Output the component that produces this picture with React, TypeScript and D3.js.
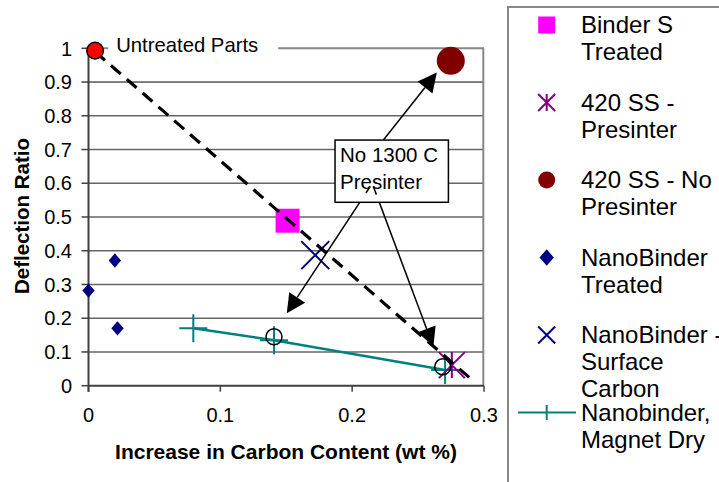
import React from "react";
import * as d3 from "d3";

// ---- data ----
const untreatedX = [0.005];
const untreatedY = [0.993];
const binderSX = [0.151];
const binderSY = [0.489];
const ss420PreX = [0.2756];
const ss420PreY = [0.061];
const ss420NoPreX = [0.2748];
const ss420NoPreY = [0.963];
const nanoTreatedX = [0.0, 0.02, 0.022];
const nanoTreatedY = [0.282, 0.371, 0.17];
const nanoSurfX = [0.172];
const nanoSurfY = [0.387];
const magnetX = [0.0795, 0.1407, 0.2705];
const magnetY = [0.17, 0.135, 0.0465];
const openCircX = [0.1407, 0.2687];
const openCircY = [0.145, 0.056];
const trendX = [0.005, 0.291];
const trendY = [0.99, 0.017];

const xTicks = [0, 0.1, 0.2, 0.3];
const yTicks = [0, 0.1, 0.2, 0.3, 0.4, 0.5, 0.6, 0.7, 0.8, 0.9, 1];

const noteLines = ["No 1300 C", "Presinter"];
// box corners and arrows in data units
const noteBoxX = [0.187, 0.273];
const noteBoxY = [0.728, 0.5436];
const arrowFromX = [0.2237, 0.2136, 0.2161];
const arrowFromY = [0.728, 0.59, 0.59];
const arrowToX = [0.2642, 0.1504, 0.2616];
const arrowToY = [0.928, 0.2146, 0.1156];
const untreatedLabel = "Untreated Parts";
const untreatedLabelX = 0.021;
const untreatedLabelY = 0.989;

const legendLabels = [
  ["Binder S", "Treated"],
  ["420 SS -", "Presinter"],
  ["420 SS - No", "Presinter"],
  ["NanoBinder", "Treated"],
  ["NanoBinder -", "Surface", "Carbon"],
  ["Nanobinder,", "Magnet Dry"],
];
const legendKinds = ["square", "asterisk", "circle", "diamond", "x", "plusline"];

const FONT = "Arial, 'Liberation Sans', sans-serif";

const x = d3.scaleLinear().domain([0, 0.3]).range([88.5, 484]);
const y = d3.scaleLinear().domain([0, 1]).range([385.7, 48.3]);

function Marker({ kind, cx, cy, s }: { kind: string; cx: number; cy: number; s: number }) {
  const h = s / 2;
  if (kind === "square")
    return <rect x={cx - h} y={cy - h} width={s} height={s} fill="#FF00FF" />;
  if (kind === "circle") return <circle cx={cx} cy={cy} r={h} fill="#800000" />;
  if (kind === "diamond")
    return (
      <path
        d={`M${cx},${cy - h * 1.1}L${cx + h * 0.95},${cy}L${cx},${cy + h * 1.1}L${cx - h * 0.95},${cy}Z`}
        fill="#000080"
      />
    );
  if (kind === "x")
    return (
      <path
        d={`M${cx - h},${cy - h}L${cx + h},${cy + h}M${cx - h},${cy + h}L${cx + h},${cy - h}`}
        stroke="#000080"
        strokeWidth={2}
      />
    );
  if (kind === "asterisk")
    return (
      <path
        d={`M${cx - h},${cy - h}L${cx + h},${cy + h}M${cx - h},${cy + h}L${cx + h},${cy - h}M${cx},${cy - h}L${cx},${cy + h}`}
        stroke="#800080"
        strokeWidth={2}
      />
    );
  if (kind === "plus")
    return (
      <path
        d={`M${cx - h},${cy}L${cx + h},${cy}M${cx},${cy - h}L${cx},${cy + h}`}
        stroke="#008080"
        strokeWidth={2}
      />
    );
  return null;
}

function Arrow({ x1, y1, x2, y2 }: { x1: number; y1: number; x2: number; y2: number }) {
  const dx = x2 - x1;
  const dy = y2 - y1;
  const len = Math.hypot(dx, dy);
  const ux = dx / len;
  const uy = dy / len;
  const L = 19;
  const W = 9.5;
  const bx = x2 - ux * L;
  const by = y2 - uy * L;
  const p1 = [bx - uy * W, by + ux * W];
  const p2 = [bx + uy * W, by - ux * W];
  return (
    <g>
      <line x1={x1} y1={y1} x2={bx} y2={by} stroke="#000" strokeWidth={1.5} />
      <path d={`M${x2},${y2}L${p1[0]},${p1[1]}L${p2[0]},${p2[1]}Z`} fill="#000" />
    </g>
  );
}

export default function App() {
  const magnetLine = d3
    .line<number>()
    .x((_, i) => x(magnetX[i]))
    .y((_, i) => y(magnetY[i]))(magnetX);
  const trendLine = d3
    .line<number>()
    .x((_, i) => x(trendX[i]))
    .y((_, i) => y(trendY[i]))(trendX);

  const bx0 = x(noteBoxX[0]);
  const bx1 = x(noteBoxX[1]);
  const by0 = y(noteBoxY[0]);
  const by1 = y(noteBoxY[1]);

  const legendMarkerX = 546.7;
  const legendTextX = 581;

  return (
    <div style={{ position: "absolute", left: 0, top: 0 }}>
      <svg width={719} height={482} style={{ display: "block", background: "#fff" }} fontFamily={FONT}>
        <rect width={719} height={482} fill="#fff" />
        {/* gridlines */}
        {yTicks.slice(1, -1).map((t) => (
          <line key={t} x1={x(0)} x2={x(0.3)} y1={y(t)} y2={y(t)} stroke={t === 0.9 ? "#000" : "#666"} strokeWidth={t === 0.9 ? 1 : 1.4} />
        ))}
        {/* top & right border */}
        <line x1={x(0)} x2={x(0.3)} y1={y(1)} y2={y(1)} stroke="#888" strokeWidth={2} />
        <line x1={x(0.3) - 0.7} x2={x(0.3) - 0.7} y1={y(1)} y2={y(0)} stroke="#888" strokeWidth={2} />
        {/* axes */}
        <line x1={x(0)} x2={x(0)} y1={y(1)} y2={y(0) + 6} stroke="#404040" strokeWidth={2} />
        <line x1={x(0)} x2={x(0.3)} y1={y(0)} y2={y(0)} stroke="#404040" strokeWidth={2} />
        {yTicks.map((t) => (
          <line key={"yt" + t} x1={x(0) - 7} x2={x(0)} y1={y(t)} y2={y(t)} stroke="#404040" strokeWidth={1.5} />
        ))}
        {xTicks.map((t) => (
          <line key={"xt" + t} x1={x(t)} x2={x(t)} y1={y(0)} y2={y(0) + 6} stroke="#404040" strokeWidth={1.5} />
        ))}
        {yTicks.map((t) => (
          <text key={"yl" + t} x={72} y={y(t)} dy="0.36em" textAnchor="end" fontSize={20} fill="#000">
            {String(t)}
          </text>
        ))}
        {xTicks.map((t) => (
          <text key={"xl" + t} x={x(t)} y={422} textAnchor="middle" fontSize={20} fill="#000">
            {String(t)}
          </text>
        ))}
        <text transform="translate(29,216) rotate(-90)" textAnchor="middle" fontSize={20.5} fontWeight="bold">
          Deflection Ratio
        </text>
        <text x={286} y={459} textAnchor="middle" fontSize={21} fontWeight="bold">
          Increase in Carbon Content (wt %)
        </text>

        {/* Magnet dry series */}
        <path d={magnetLine || ""} fill="none" stroke="#008080" strokeWidth={2.5} />
        {magnetX.map((v, i) => (
          <Marker key={"m" + i} kind="plus" cx={x(v)} cy={y(magnetY[i])} s={28} />
        ))}
        {nanoTreatedX.map((v, i) => (
          <Marker key={"d" + i} kind="diamond" cx={x(v)} cy={y(nanoTreatedY[i])} s={13} />
        ))}
        {binderSX.map((v, i) => (
          <Marker key={"s" + i} kind="square" cx={x(v)} cy={y(binderSY[i])} s={24} />
        ))}
        {nanoSurfX.map((v, i) => (
          <Marker key={"x" + i} kind="x" cx={x(v)} cy={y(nanoSurfY[i])} s={28} />
        ))}
        {ss420PreX.map((v, i) => (
          <Marker key={"a" + i} kind="asterisk" cx={x(v)} cy={y(ss420PreY[i])} s={26} />
        ))}
        {openCircX.map((v, i) => (
          <circle key={"o" + i} cx={x(v)} cy={y(openCircY[i])} r={8} fill="none" stroke="#000" strokeWidth={1.5} />
        ))}
        {/* trend dashed */}
        <path d={trendLine || ""} fill="none" stroke="#000" strokeWidth={3.2} strokeDasharray="13 8" />
        {ss420NoPreX.map((v, i) => (
          <Marker key={"c" + i} kind="circle" cx={x(v)} cy={y(ss420NoPreY[i])} s={28} />
        ))}
        {untreatedX.map((v, i) => (
          <circle key={"u" + i} cx={x(v)} cy={y(untreatedY[i])} r={8.3} fill="#FF0000" stroke="#000" strokeWidth={1.5} />
        ))}
        {/* untreated label with white background */}
        <rect x={x(untreatedLabelX) - 8} y={y(untreatedLabelY) - 18} width={170} height={24} fill="#fff" />
        <text x={x(untreatedLabelX)} y={y(untreatedLabelY)} fontSize={20.3} fill="#000">
          {untreatedLabel}
        </text>

        {/* annotation */}
        {arrowFromX.map((v, i) => (
          <Arrow key={"ar" + i} x1={x(v)} y1={y(arrowFromY[i])} x2={x(arrowToX[i])} y2={y(arrowToY[i])} />
        ))}
        <rect x={bx0} y={by0} width={bx1 - bx0} height={by1 - by0} fill="#fff" stroke="#000" strokeWidth={1.5} />
        {noteLines.map((l, i) => (
          <text key={"n" + i} x={bx0 + 5} y={by0 + 22 + i * 27} fontSize={20.5} fill="#000">
            {l}
          </text>
        ))}
        {arrowFromX.slice(1).map((v, i) => (
          <line
            key={"as" + i}
            x1={x(v)}
            y1={y(arrowFromY[i + 1])}
            x2={x(v) + (x(arrowToX[i + 1]) - x(v)) * 0.05}
            y2={y(arrowFromY[i + 1]) + (y(arrowToY[i + 1]) - y(arrowFromY[i + 1])) * 0.05}
            stroke="#000"
            strokeWidth={1.5}
          />
        ))}

        {/* legend */}
        <rect x={508} y={7} width={230} height={500} fill="#fff" stroke="#888" strokeWidth={2} />
        {legendLabels.map((lines, i) => {
          const base = 33 + i * 77.5;
          const kind = legendKinds[i];
          const my = base - 8;
          return (
            <g key={"lg" + i}>
              {kind === "plusline" ? (
                <g>
                  <line x1={518} x2={576} y1={my} y2={my} stroke="#008080" strokeWidth={2} />
                  <line x1={legendMarkerX} x2={legendMarkerX} y1={my - 7.5} y2={my + 7.5} stroke="#008080" strokeWidth={2} />
                </g>
              ) : (
                <Marker kind={kind} cx={legendMarkerX} cy={my} s={kind === "diamond" ? 15 : 17} />
              )}
              {lines.map((l, j) => (
                <text key={j} x={legendTextX} y={base + j * 27} fontSize={24} fill="#000">
                  {l}
                </text>
              ))}
            </g>
          );
        })}
      </svg>
    </div>
  );
}
